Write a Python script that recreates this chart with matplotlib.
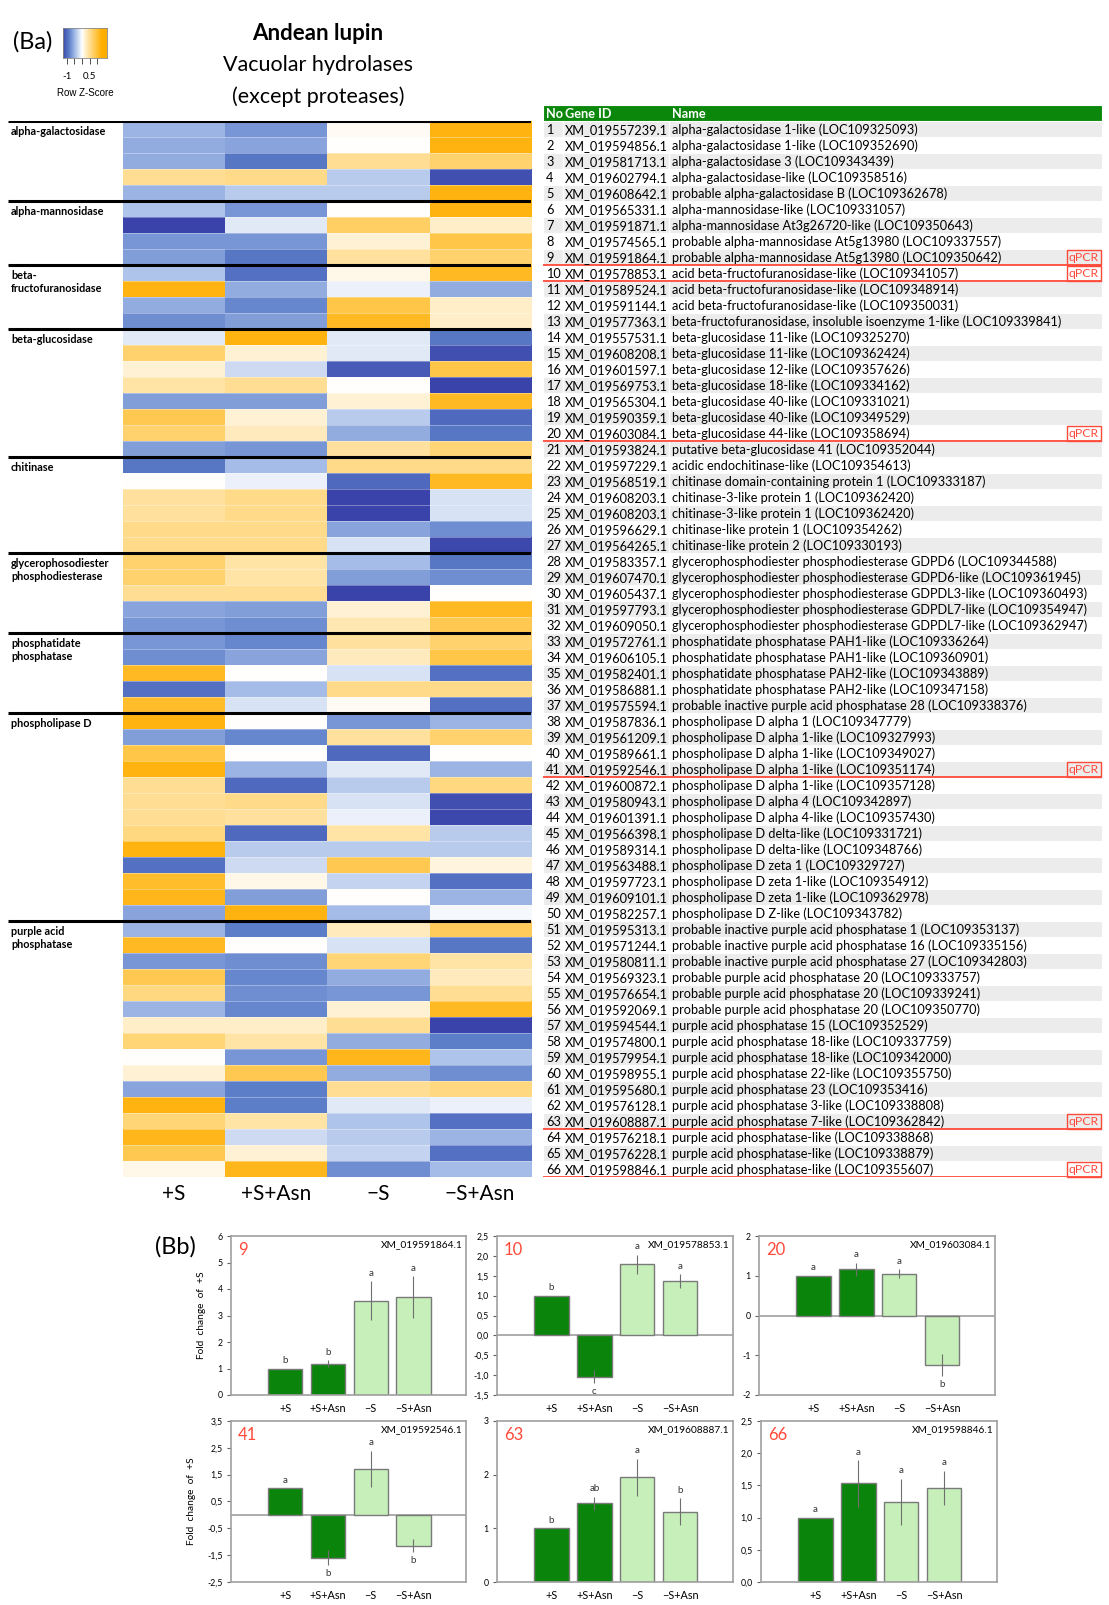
import numpy as np
import matplotlib as mpl
mpl.use("Agg")
import matplotlib.pyplot as plt
from matplotlib.colors import LinearSegmentedColormap, TwoSlopeNorm
from matplotlib.ticker import FuncFormatter

plt.rcParams['font.family'] = ['Lato', 'DejaVu Sans']

##########
## Data ##
##########

conditions = ["+S", "+S+Asn", "\u2212S", "\u2212S+Asn"]

groups      = ["alpha-galactosidase", "alpha-mannosidase", "beta-\nfructofuranosidase", "beta-glucosidase",
               "chitinase", "glycerophosodiester\nphosphodiesterase", "phosphatidate\nphosphatase",
               "phospholipase D", "purple acid\nphosphatase"]
group_sizes = [5, 4, 4, 8, 6, 5, 5, 13, 16]

## row z-scores, one list per condition (rows 1..66)
z_pS    = [-0.5, -0.55, -0.55, 0.5, -0.5, -0.4, -1.3, -0.7, -0.65, -0.4, 1.2, -0.55, -0.75,
           -0.15, 0.7, 0.2, 0.4, -0.65, 0.85, 0.7, -0.65, -0.9, 0.0, 0.45, 0.45, 0.55, 0.55,
           0.7, 0.7, 0.5, -0.6, -0.7, -0.7, -0.75, 1.1, -0.95, 1.05, 1.2, -0.65, 0.9, 1.2, 0.5,
           0.5, 0.5, 0.6, 1.2, -0.95, 1.05, 1.15, -0.6, -0.5, 1.1, -0.7, 0.85, 0.6, -0.5, 0.25,
           0.65, 0.0, 0.2, -0.6, 1.2, 0.65, 1.15, 0.85, 0.1]
z_pSAsn = [-0.7, -0.6, -0.9, 0.55, -0.35, -0.7, -0.15, -0.7, -0.9, -0.95, -0.55, -0.8, -0.65,
           1.2, 0.2, -0.25, 0.5, -0.65, 0.2, 0.3, -0.7, -0.45, -0.1, 0.55, 0.55, 0.55, 0.55,
           0.4, 0.4, 0.5, -0.65, -0.75, -0.8, -0.6, 0.0, -0.45, -0.2, 0.0, -0.8, 0.0, -0.5, -1.0,
           0.55, 0.45, -1.0, -0.35, -0.25, 0.1, -0.65, 1.2, -0.85, 0.0, -0.75, -0.8, -0.75, -0.8,
           0.25, 0.4, -0.7, 0.85, -0.85, -0.85, 0.4, -0.25, 0.2, 1.15]
z_mS    = [0.05, 0.0, 0.5, -0.35, -0.35, 0.0, 0.75, 0.2, 0.45, 0.1, -0.1, 0.9, 1.1,
           -0.15, -0.15, -1.1, 0.0, 0.2, -0.35, -0.55, 0.45, 0.55, -1.0, -1.3, -1.3, -0.6, -0.2,
           -0.45, -0.65, -1.4, 0.2, 0.35, 0.45, 0.3, -0.2, 0.55, 0.05, -0.7, 0.45, -1.0, -0.15, -0.35,
           -0.2, -0.1, 0.4, -0.35, 0.85, -0.3, 0.0, -0.45, 0.3, -0.2, 0.65, -0.55, -0.7, 0.2,
           0.5, -0.55, 1.15, -0.55, 0.5, -0.15, -0.4, -0.35, -0.3, -0.75]
z_mSAsn = [1.2, 1.2, 0.7, -1.2, 1.2, 1.2, 0.25, 0.9, 0.7, 1.1, -0.55, 0.25, 0.25,
           -0.9, -1.2, 0.9, -1.4, 1.1, -1.0, -0.9, 0.65, 0.55, 1.1, -0.2, -0.2, -0.75, -1.25,
           -0.9, -0.75, 0.0, 1.1, 0.85, 0.7, 0.9, -0.95, 0.55, -0.95, -0.5, 0.7, 0.0, -0.5, 0.6,
           -1.2, -1.25, -0.35, -0.35, 0.15, -0.95, -0.5, -0.05, 0.8, -0.9, 0.4, 0.3, 0.5, 1.1,
           -1.4, -0.85, -0.4, -0.75, 0.6, -0.1, -0.95, -0.5, -0.95, -0.45]

gene_ids = ["XM_019557239.1", "XM_019594856.1", "XM_019581713.1", "XM_019602794.1", "XM_019608642.1",
            "XM_019565331.1", "XM_019591871.1", "XM_019574565.1", "XM_019591864.1", "XM_019578853.1",
            "XM_019589524.1", "XM_019591144.1", "XM_019577363.1", "XM_019557531.1", "XM_019608208.1",
            "XM_019601597.1", "XM_019569753.1", "XM_019565304.1", "XM_019590359.1", "XM_019603084.1",
            "XM_019593824.1", "XM_019597229.1", "XM_019568519.1", "XM_019608203.1", "XM_019608203.1",
            "XM_019596629.1", "XM_019564265.1", "XM_019583357.1", "XM_019607470.1", "XM_019605437.1",
            "XM_019597793.1", "XM_019609050.1", "XM_019572761.1", "XM_019606105.1", "XM_019582401.1",
            "XM_019586881.1", "XM_019575594.1", "XM_019587836.1", "XM_019561209.1", "XM_019589661.1",
            "XM_019592546.1", "XM_019600872.1", "XM_019580943.1", "XM_019601391.1", "XM_019566398.1",
            "XM_019589314.1", "XM_019563488.1", "XM_019597723.1", "XM_019609101.1", "XM_019582257.1",
            "XM_019595313.1", "XM_019571244.1", "XM_019580811.1", "XM_019569323.1", "XM_019576654.1",
            "XM_019592069.1", "XM_019594544.1", "XM_019574800.1", "XM_019579954.1", "XM_019598955.1",
            "XM_019595680.1", "XM_019576128.1", "XM_019608887.1", "XM_019576218.1", "XM_019576228.1",
            "XM_019598846.1"]

gene_names = ["alpha-galactosidase 1-like (LOC109325093)",
              "alpha-galactosidase 1-like (LOC109352690)",
              "alpha-galactosidase 3 (LOC109343439)",
              "alpha-galactosidase-like (LOC109358516)",
              "probable alpha-galactosidase B (LOC109362678)",
              "alpha-mannosidase-like (LOC109331057)",
              "alpha-mannosidase At3g26720-like (LOC109350643)",
              "probable alpha-mannosidase At5g13980 (LOC109337557)",
              "probable alpha-mannosidase At5g13980 (LOC109350642)",
              "acid beta-fructofuranosidase-like (LOC109341057)",
              "acid beta-fructofuranosidase-like (LOC109348914)",
              "acid beta-fructofuranosidase-like (LOC109350031)",
              "beta-fructofuranosidase, insoluble isoenzyme 1-like (LOC109339841)",
              "beta-glucosidase 11-like (LOC109325270)",
              "beta-glucosidase 11-like (LOC109362424)",
              "beta-glucosidase 12-like (LOC109357626)",
              "beta-glucosidase 18-like (LOC109334162)",
              "beta-glucosidase 40-like (LOC109331021)",
              "beta-glucosidase 40-like (LOC109349529)",
              "beta-glucosidase 44-like (LOC109358694)",
              "putative beta-glucosidase 41 (LOC109352044)",
              "acidic endochitinase-like (LOC109354613)",
              "chitinase domain-containing protein 1 (LOC109333187)",
              "chitinase-3-like protein 1 (LOC109362420)",
              "chitinase-3-like protein 1 (LOC109362420)",
              "chitinase-like protein 1 (LOC109354262)",
              "chitinase-like protein 2 (LOC109330193)",
              "glycerophosphodiester phosphodiesterase GDPD6 (LOC109344588)",
              "glycerophosphodiester phosphodiesterase GDPD6-like (LOC109361945)",
              "glycerophosphodiester phosphodiesterase GDPDL3-like (LOC109360493)",
              "glycerophosphodiester phosphodiesterase GDPDL7-like (LOC109354947)",
              "glycerophosphodiester phosphodiesterase GDPDL7-like (LOC109362947)",
              "phosphatidate phosphatase PAH1-like (LOC109336264)",
              "phosphatidate phosphatase PAH1-like (LOC109360901)",
              "phosphatidate phosphatase PAH2-like (LOC109343889)",
              "phosphatidate phosphatase PAH2-like (LOC109347158)",
              "probable inactive purple acid phosphatase 28 (LOC109338376)",
              "phospholipase D alpha 1 (LOC109347779)",
              "phospholipase D alpha 1-like (LOC109327993)",
              "phospholipase D alpha 1-like (LOC109349027)",
              "phospholipase D alpha 1-like (LOC109351174)",
              "phospholipase D alpha 1-like (LOC109357128)",
              "phospholipase D alpha 4 (LOC109342897)",
              "phospholipase D alpha 4-like (LOC109357430)",
              "phospholipase D delta-like (LOC109331721)",
              "phospholipase D delta-like (LOC109348766)",
              "phospholipase D zeta 1 (LOC109329727)",
              "phospholipase D zeta 1-like (LOC109354912)",
              "phospholipase D zeta 1-like (LOC109362978)",
              "phospholipase D Z-like (LOC109343782)",
              "probable inactive purple acid phosphatase 1 (LOC109353137)",
              "probable inactive purple acid phosphatase 16 (LOC109335156)",
              "probable inactive purple acid phosphatase 27 (LOC109342803)",
              "probable purple acid phosphatase 20 (LOC109333757)",
              "probable purple acid phosphatase 20 (LOC109339241)",
              "probable purple acid phosphatase 20 (LOC109350770)",
              "purple acid phosphatase 15 (LOC109352529)",
              "purple acid phosphatase 18-like (LOC109337759)",
              "purple acid phosphatase 18-like (LOC109342000)",
              "purple acid phosphatase 22-like (LOC109355750)",
              "purple acid phosphatase 23 (LOC109353416)",
              "purple acid phosphatase 3-like (LOC109338808)",
              "purple acid phosphatase 7-like (LOC109362842)",
              "purple acid phosphatase-like (LOC109338868)",
              "purple acid phosphatase-like (LOC109338879)",
              "purple acid phosphatase-like (LOC109355607)"]

qpcr_rows = [9, 10, 20, 41, 63, 66]

## qPCR fold changes (panels Bb)
fc_9     = [1.0, 1.18, 3.56, 3.7]
err_9    = [0.0, 0.13, 0.74, 0.79]
let_9    = ["b", "b", "a", "a"]
fc_10    = [1.0, -1.04, 1.79, 1.37]
err_10   = [0.0, 0.17, 0.24, 0.17]
let_10   = ["b", "c", "a", "a"]
fc_20    = [1.0, 1.16, 1.05, -1.25]
err_20   = [0.0, 0.17, 0.11, 0.28]
let_20   = ["a", "a", "a", "b"]
fc_41    = [1.0, -1.6, 1.71, -1.15]
err_41   = [0.0, 0.28, 0.68, 0.25]
let_41   = ["a", "b", "a", "b"]
fc_63    = [1.0, 1.47, 1.95, 1.31]
err_63   = [0.0, 0.12, 0.35, 0.25]
let_63   = ["b", "ab", "a", "b"]
fc_66    = [1.0, 1.53, 1.245, 1.46]
err_66   = [0.0, 0.36, 0.355, 0.27]
let_66   = ["a", "a", "a", "a"]

###########
## Style ##
###########

W, H = 1109, 1605
fig = plt.figure(figsize=(W / 100, H / 100), dpi=100)

def px_axes(x0, y0, x1, y1):
	return fig.add_axes([x0 / W, 1 - y1 / H, (x1 - x0) / W, (y1 - y0) / H])

cmap = LinearSegmentedColormap.from_list("bwo", ["#3a43aa", "#5a7cc8", "#a9c0ea", "#ffffff",
                                                 "#ffe2a0", "#ffc94f", "#ffae00"])
norm = TwoSlopeNorm(vmin=-1.3, vcenter=0, vmax=1.3)
red = "#ff4a3a"
dark_green = "#0a840a"
light_green = "#c6efb9"

#############
## Heatmap ##
#############

Z = np.column_stack([z_pS, z_pSAsn, z_mS, z_mSAsn])
nrow = Z.shape[0]
lab_w = 1.125

ax = px_axes(8, 121, 531, 1177)
ax.imshow(Z, cmap=cmap, norm=norm, aspect="auto", interpolation="nearest",
          extent=(0, 4, nrow, 0))
ax.hlines(np.arange(1, nrow), 0, 4, color="white", lw=0.4, alpha=0.6)
starts = np.concatenate([[0], np.cumsum(group_sizes)[:-1]])
ax.hlines(starts, -lab_w, 4, color="black", lw=2.2)
for g, s in zip(groups, starts):
	ax.text(-lab_w + 0.03, s + 0.3, g, fontsize=7.8, fontweight="bold", va="top", ha="left",
	        linespacing=1.25)
for i, c in enumerate(conditions):
	ax.text(i + 0.5, nrow + 1.06, c, fontsize=15, ha="center", va="center")
ax.set_xlim(-lab_w, 4)
ax.set_ylim(nrow, 0)
ax.axis("off")

## colour key
cax = px_axes(63, 28, 107, 58)
grad = np.linspace(-1.24, 1.63, 200)[None, :]
cax.imshow(grad, cmap=cmap, norm=norm, aspect="auto", extent=(-1.24, 1.63, 0, 1))
cax.set_xlim(-1.24, 1.63)
cax.set_yticks([])
cax.set_xticks([-1, -0.5, 0, 0.5, 1])
cax.set_xticklabels(["-1", "", "", "0.5", ""])
cax.tick_params(axis="x", length=4, width=0.6, labelsize=7, pad=6, color="#333333")
for sp in cax.spines.values():
	sp.set_color("#888888")
	sp.set_linewidth(0.6)
fig.text(85 / W, 1 - 93 / H, "Row Z-Score", fontsize=7, ha="center", va="center",
         family=["Liberation Sans", "DejaVu Sans"])

fig.text(13 / W, 1 - 42 / H, "(Ba)", fontsize=17, va="center")
fig.text(318 / W, 1 - 33 / H, "Andean lupin", fontsize=16, fontweight="bold", ha="center", va="center")
fig.text(318 / W, 1 - 65 / H, "Vacuolar hydrolases", fontsize=15.5, ha="center", va="center")
fig.text(318 / W, 1 - 97 / H, "(except proteases)", fontsize=15.5, ha="center", va="center")

###########
## Table ##
###########

tw = 559
fs_tab = 9.2
tax = px_axes(543, 105, 543 + tw, 1177)
rows = np.arange(nrow)
shade = ["#ececec" if i % 2 == 0 else "white" for i in rows]
tax.barh(rows + 0.5, tw, height=1, left=0, color=shade, edgecolor="white", lw=0.8)
tax.barh(-0.5, tw, height=1, left=0, color="#0b870b", edgecolor="white", lw=0.8)
tax.vlines([20, 126], 0, nrow, color="white", lw=1.0)
for x, h in zip([3, 22, 129], ["No", "Gene ID", "Name"]):
	tax.text(x, -0.45, h, fontsize=fs_tab, fontweight="bold", color="white", va="center")
for i in rows:
	tax.text(3, i + 0.55, str(i + 1), fontsize=fs_tab, va="center")
	tax.text(22, i + 0.55, gene_ids[i], fontsize=fs_tab, va="center")
	tax.text(129, i + 0.55, gene_names[i], fontsize=fs_tab, va="center")
for r in qpcr_rows:
	tax.text(tw - 3, r - 0.45, "qPCR", fontsize=8.8, color=red, ha="right", va="center",
	         bbox=dict(boxstyle="square,pad=0.15", fc="none", ec=red, lw=1.0))
	tax.hlines(r, 0, tw, color=red, lw=1.3)
tax.set_xlim(0, tw)
tax.set_ylim(nrow, -1)
tax.axis("off")

################
## Bar panels ##
################

def comma_fmt(dec):
	return FuncFormatter(lambda v, _: f"{v:.{dec}f}".replace(".", ","))

def bar_panel(box, num, gid, vals, errs, letters, ylim, step, dec, ylabel=False):
	ax = px_axes(*box)
	x = np.arange(len(vals))
	cols = [dark_green, dark_green, light_green, light_green]
	ax.bar(x, vals, width=0.8, color=cols, edgecolor="#7a7a7a", lw=1.0, zorder=2)
	ax.errorbar(x, vals, yerr=errs, fmt="none", ecolor="#6f6f6f", elinewidth=0.8, capsize=0, zorder=3)
	for xi, v, e, l in zip(x, vals, errs, letters):
		if v >= 0:
			ax.annotate(l, (xi, v + e), xytext=(0, 2.5), textcoords="offset points",
			            ha="center", va="bottom", fontsize=7, color="#333333")
		else:
			ax.annotate(l, (xi, v - e), xytext=(0, -2.5), textcoords="offset points",
			            ha="center", va="top", fontsize=7, color="#333333")
	if ylim[0] < 0:
		ax.axhline(0, color="#a0a0a0", lw=1.2, zorder=1)
	ax.set_xlim(-1.27, 4.23)
	ax.set_ylim(*ylim)
	ax.set_yticks(np.arange(ylim[0], ylim[1] + step / 2, step))
	ax.yaxis.set_major_formatter(comma_fmt(dec))
	ax.set_xticks(x)
	ax.set_xticklabels(conditions)
	ax.tick_params(axis="y", length=3, width=0.8, color="#606060", labelsize=6.3, pad=3)
	ax.tick_params(axis="x", length=0, labelsize=7.8, pad=6)
	for sp in ax.spines.values():
		sp.set_color("#a0a0a0")
		sp.set_linewidth(1.2)
	ax.text(0.03, 0.91, num, transform=ax.transAxes, color=red, fontsize=12, va="center")
	ax.text(0.985, 0.945, gid, transform=ax.transAxes, fontsize=7.3, ha="right", va="center")
	if ylabel:
		ax.set_ylabel("Fold  change  of  +S", fontsize=7.3, labelpad=8)
	return ax

bar_panel((231, 1236, 466, 1395), "9", gene_ids[8], fc_9, err_9, let_9, (0, 6), 1, 0, ylabel=True)
bar_panel((497, 1236, 733, 1395), "10", gene_ids[9], fc_10, err_10, let_10, (-1.5, 2.5), 0.5, 1)
bar_panel((759, 1236, 995, 1395), "20", gene_ids[19], fc_20, err_20, let_20, (-2, 2), 1, 0)
bar_panel((231, 1421, 466, 1582), "41", gene_ids[40], fc_41, err_41, let_41, (-2.5, 3.5), 1, 1, ylabel=True)
bar_panel((497, 1421, 733, 1582), "63", gene_ids[62], fc_63, err_63, let_63, (0, 3), 1, 0)
bar_panel((761, 1421, 997, 1582), "66", gene_ids[65], fc_66, err_66, let_66, (0, 2.5), 0.5, 1)

fig.text(155 / W, 1 - 1247 / H, "(Bb)", fontsize=17, va="center")

fig.savefig("out.png", dpi=100)
plt.close(fig)
